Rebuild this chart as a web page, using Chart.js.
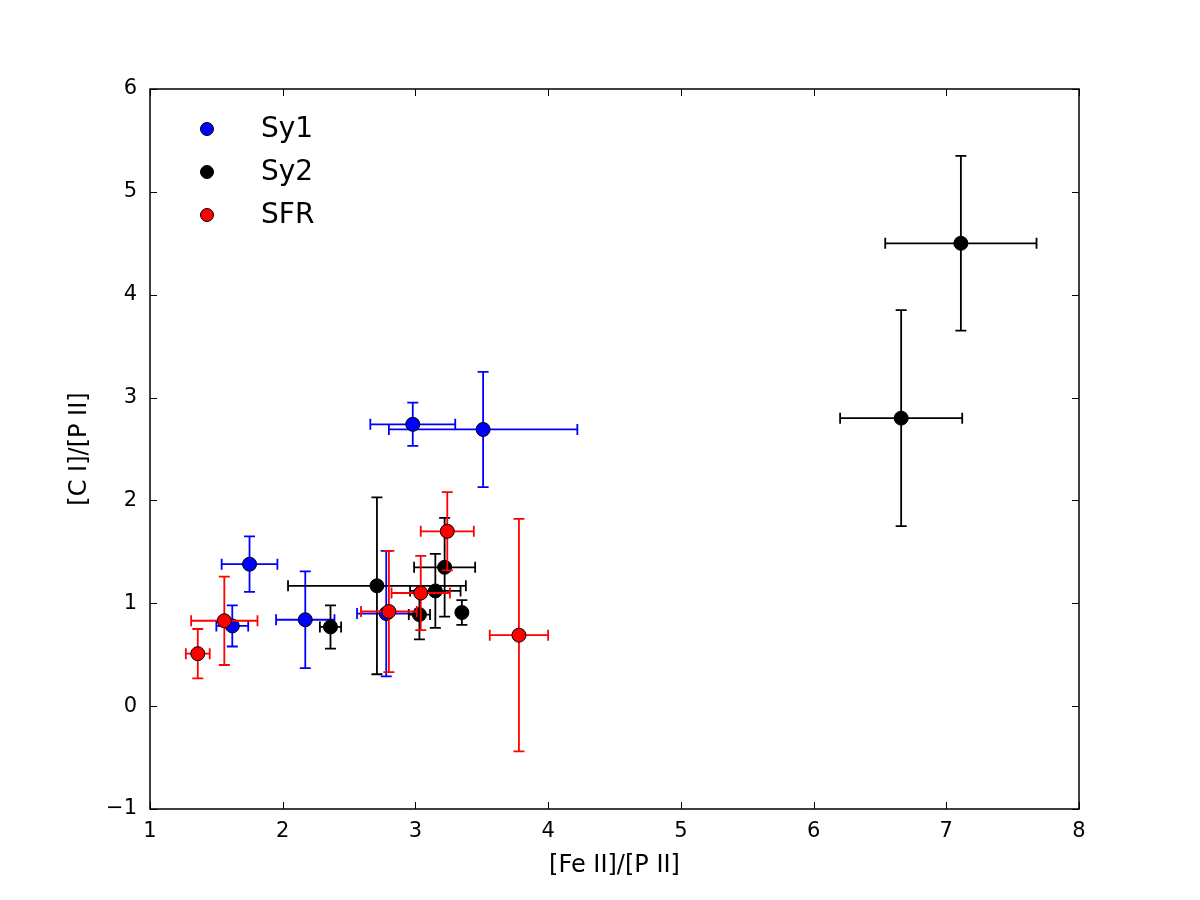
<!DOCTYPE html>
<html>
<head>
<meta charset="utf-8">
<script src="https://cdn.jsdelivr.net/npm/chart.js@4.4.1/dist/chart.umd.min.js"></script>
<style>
html, body { margin: 0; padding: 0; background: #fff; }
</style>
</head>
<body>
<canvas id="myChart" width="1200" height="900"></canvas>
<script>
// values
const sy1X    = [1.75, 1.62, 2.17, 2.78, 2.98, 3.51];
const sy1Y    = [1.38, 0.78, 0.84, 0.90, 2.74, 2.69];
const sy1XErr = [0.21, 0.12, 0.22, 0.22, 0.32, 0.71];
const sy1YErr = [0.27, 0.20, 0.47, 0.61, 0.21, 0.56];

const sy2X    = [2.36, 2.71, 3.03, 3.15, 3.22, 3.35, 6.66, 7.11];
const sy2Y    = [0.77, 1.17, 0.89, 1.12, 1.35, 0.91, 2.80, 4.50];
const sy2XErr = [0.08, 0.67, 0.08, 0.19, 0.23, 0.03, 0.46, 0.57];
const sy2YErr = [0.21, 0.86, 0.24, 0.36, 0.48, 0.12, 1.05, 0.85];

const sfrX    = [1.36, 1.56, 2.80, 3.04, 3.24, 3.78];
const sfrY    = [0.51, 0.83, 0.92, 1.10, 1.70, 0.69];
const sfrXErr = [0.09, 0.25, 0.21, 0.22, 0.20, 0.22];
const sfrYErr = [0.24, 0.43, 0.59, 0.36, 0.38, 1.13];

const seriesNames = ['Sy1', 'Sy2', 'SFR'];
const seriesColours = ['#0000ff', '#000000', '#ff0000'];

const xTicks = [1, 2, 3, 4, 5, 6, 7, 8];
const yTicks = [-1, 0, 1, 2, 3, 4, 5, 6];

const FONT = 'DejaVu Sans';

function toPoints(xs, ys) {
    return xs.map((x, i) => ({x: x, y: ys[i]}));
}

function makeSet(i, xs, ys, xe, ye) {
    return {
        label: seriesNames[i],
        data: toPoints(xs, ys),
        xErr: xe,
        yErr: ye,
        backgroundColor: seriesColours[i],
        borderColor: '#000',
        borderWidth: 1,
        pointRadius: 7,
        pointHoverRadius: 7,
        order: 2 - i,
    };
}

// error bars drawn just before each dataset's markers
const errorBars = {
    id: 'errorBars',
    beforeDatasetDraw(chart, args) {
        const ds = chart.data.datasets[args.index];
        const xs = chart.scales.x, ys = chart.scales.y;
        const ctx = chart.ctx;
        const cap = 5.5;
        ctx.save();
        ctx.strokeStyle = ds.backgroundColor;
        ctx.lineWidth = 1.8;
        ds.data.forEach((p, i) => {
            const px = xs.getPixelForValue(p.x);
            const py = ys.getPixelForValue(p.y);
            const x0 = xs.getPixelForValue(p.x - ds.xErr[i]);
            const x1 = xs.getPixelForValue(p.x + ds.xErr[i]);
            const y0 = ys.getPixelForValue(p.y - ds.yErr[i]);
            const y1 = ys.getPixelForValue(p.y + ds.yErr[i]);
            ctx.beginPath();
            ctx.moveTo(x0, py); ctx.lineTo(x1, py);
            ctx.moveTo(x0, py - cap); ctx.lineTo(x0, py + cap);
            ctx.moveTo(x1, py - cap); ctx.lineTo(x1, py + cap);
            ctx.moveTo(px, y0); ctx.lineTo(px, y1);
            ctx.moveTo(px - cap, y0); ctx.lineTo(px + cap, y0);
            ctx.moveTo(px - cap, y1); ctx.lineTo(px + cap, y1);
            ctx.stroke();
        });
        ctx.restore();
    }
};

// box frame with inward ticks on all four sides, plus the legend
const frame = {
    id: 'frame',
    afterDraw(chart) {
        const ctx = chart.ctx;
        const a = chart.chartArea;
        const xs = chart.scales.x, ys = chart.scales.y;
        const tl = 7;
        ctx.save();
        ctx.strokeStyle = '#000';
        ctx.lineWidth = 1;
        ctx.beginPath();
        xTicks.forEach(v => {
            const px = Math.round(xs.getPixelForValue(v)) + 0.5;
            ctx.moveTo(px, a.bottom); ctx.lineTo(px, a.bottom - tl);
            ctx.moveTo(px, a.top); ctx.lineTo(px, a.top + tl);
        });
        yTicks.forEach(v => {
            const py = Math.round(ys.getPixelForValue(v)) + 0.5;
            ctx.moveTo(a.left, py); ctx.lineTo(a.left + tl, py);
            ctx.moveTo(a.right, py); ctx.lineTo(a.right - tl, py);
        });
        ctx.stroke();
        ctx.lineWidth = 1.5;
        ctx.strokeRect(a.left, a.top, a.right - a.left, a.bottom - a.top);

        // legend, matplotlib style (one marker per row)
        ctx.font = '28px "' + FONT + '"';
        ctx.textBaseline = 'middle';
        ctx.textAlign = 'left';
        chart.data.datasets.forEach((ds, i) => {
            const cy = a.top + 40 + i * 43;
            ctx.beginPath();
            ctx.arc(a.left + 57, cy, 6.5, 0, Math.PI * 2);
            ctx.fillStyle = ds.backgroundColor;
            ctx.fill();
            ctx.lineWidth = 1;
            ctx.strokeStyle = '#000';
            ctx.stroke();
            ctx.fillStyle = '#000';
            ctx.fillText(ds.label, a.left + 111, cy + 1);
        });
        ctx.restore();
    }
};

function minusSign(v) {
    return v < 0 ? '\u2212' + Math.abs(v) : String(v);
}

const ctx = document.getElementById('myChart').getContext('2d');

const myChart = new Chart(ctx, {
    type: 'scatter',
    data: {
        datasets: [
            makeSet(0, sy1X, sy1Y, sy1XErr, sy1YErr),
            makeSet(1, sy2X, sy2Y, sy2XErr, sy2YErr),
            makeSet(2, sfrX, sfrY, sfrXErr, sfrYErr),
        ]
    },
    options: {
        responsive: false,
        animation: false,
        devicePixelRatio: 1,
        layout: {
            padding: {left: 61, right: 121, top: 89, bottom: 16}
        },
        plugins: {
            legend: {display: false},
            tooltip: {enabled: false},
        },
        scales: {
            x: {
                type: 'linear',
                min: 1, max: 8,
                afterFit(scale) { scale.height = 75; },
                grid: {display: false, drawTicks: false},
                border: {display: false},
                ticks: {
                    stepSize: 1,
                    padding: 10,
                    color: '#000',
                    font: {family: FONT, size: 21},
                    callback: minusSign,
                },
                title: {
                    display: true,
                    text: '[Fe II]/[P II]',
                    color: '#000',
                    font: {family: FONT, size: 24},
                },
            },
            y: {
                type: 'linear',
                min: -1, max: 6,
                afterFit(scale) { scale.width = 89; },
                grid: {display: false, drawTicks: false},
                border: {display: false},
                ticks: {
                    stepSize: 1,
                    padding: 13,
                    color: '#000',
                    font: {family: FONT, size: 21},
                    callback: minusSign,
                },
                title: {
                    display: true,
                    text: '[C I]/[P II]',
                    color: '#000',
                    font: {family: FONT, size: 24},
                },
            },
        },
    },
    plugins: [errorBars, frame],
});
</script>
</body>
</html>
